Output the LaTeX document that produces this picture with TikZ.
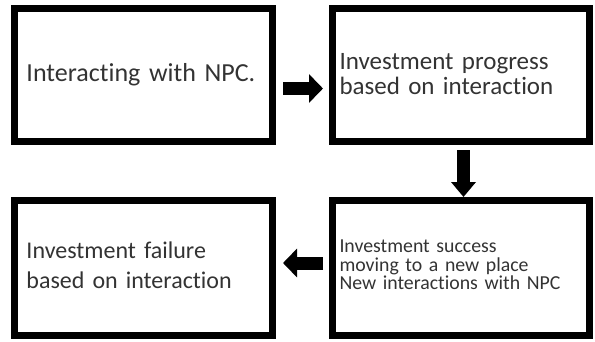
\documentclass[tikz,border=0pt]{standalone}
\usepackage{fontspec}
\setmainfont[Ligatures=NoCommon]{Carlito}
\usetikzlibrary{arrows.meta}

\tikzset{
    box/.style={draw, line width=7pt, align=left, text=black!80},
    flow/.style={line width=13pt, -{Triangle[length=14pt, width=28pt]}}
}

\begin{document}
\begin{tikzpicture}[x=1pt, y=-1pt]
        \useasboundingbox (0,0) rectangle (595,341);

        % top row
        \node[box, inner xsep=12pt, text width=234pt, minimum height=133pt, font=\fontsize{26}{30}\selectfont] (interact) at (143.5,75) {Interacting with NPC.};
        \node[box, inner xsep=7pt, text width=243pt, minimum height=133pt, text depth=27pt, font=\fontsize{25}{25}\selectfont] (progress) at (461,75) {Investment progress\\based on interaction};

        % bottom row
        \node[box, inner xsep=12pt, text width=234pt, minimum height=135pt, text depth=35.5pt, font=\fontsize{24}{30}\selectfont] (failure) at (143.5,268) {Investment failure\\based on interaction};
        \node[box, inner xsep=7pt, text width=243pt, minimum height=135pt, text depth=43pt, font=\fontsize{19.8}{18.5}\selectfont] (success) at (461,268) {Investment success\\moving to a new place\\New interactions with NPC};

        \draw[flow, shorten <=7pt, shorten >=6pt] ([yshift=-13.5pt]interact.east) -- ([yshift=-13.5pt]progress.west);
        \draw[flow, -{Triangle[length=15pt, width=24pt]}, shorten <=5pt] ([xshift=2.5pt]progress.south) -- ([xshift=2.5pt]success.north);
        \draw[flow, shorten <=6pt, shorten >=7pt] ([yshift=5pt]success.west) -- ([yshift=5pt]failure.east);
\end{tikzpicture}
\end{document}
